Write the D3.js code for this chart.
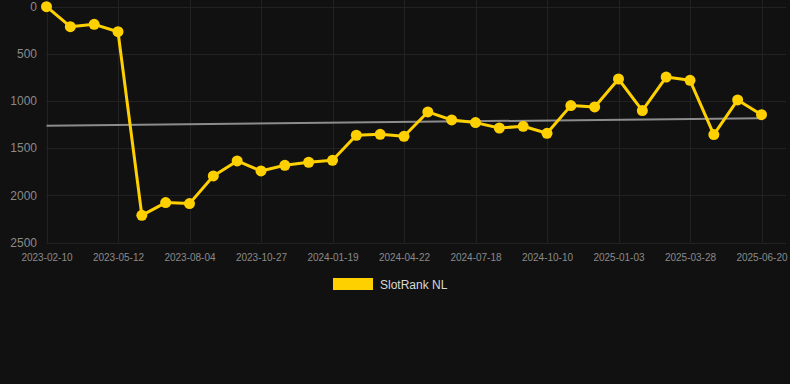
<!DOCTYPE html>
<html>
<head>
<meta charset="utf-8">
<script src="https://cdn.jsdelivr.net/npm/d3@7"></script>
<style>
  html, body { margin: 0; padding: 0; background: #111111; }
  svg { display: block; font-family: "Liberation Sans", Arial, sans-serif; }
</style>
</head>
<body>
<div id="chart"></div>
<script>
// data
let dates = ["2023-02-10", "2023-03-10", "2023-04-14", "2023-05-12", "2023-06-09", "2023-07-07",
    "2023-08-04", "2023-09-01", "2023-09-29", "2023-10-27", "2023-11-24", "2023-12-22",
    "2024-01-19", "2024-02-16", "2024-03-22", "2024-04-22", "2024-05-20", "2024-06-19",
    "2024-07-18", "2024-08-15", "2024-09-12", "2024-10-10", "2024-11-07", "2024-12-05",
    "2025-01-03", "2025-01-31", "2025-02-28", "2025-03-28", "2025-04-25", "2025-05-23",
    "2025-06-20"];
let ranks = [2, 214, 189, 267, 2212, 2077, 2088, 1795, 1636, 1742, 1682, 1650,
    1629, 1364, 1354, 1375, 1117, 1202, 1230, 1287, 1269, 1343, 1050, 1064,
    768, 1103, 747, 782, 1357, 990, 1146];
let trendEnds = [1262, 1184]; // gray trend line, first and last date
let yTicks = [0, 500, 1000, 1500, 2000, 2500];
let seriesName = "SlotRank NL";

//Options
let width = 790;
let height = 384;
let gold = "#ffd000";
let gridColor = "#222222";
let labelColor = "#8a8a8a";

let svg = d3.select("#chart").append("svg")
    .attr("width", width)
    .attr("height", height);

svg.append("rect")
    .attr("width", width)
    .attr("height", height)
    .style("fill", "#111111");

let x_scale = d3.scalePoint()
    .domain(dates)
    .range([46.5, 761.5]);

let y_scale = d3.scaleLinear()
    .domain([0, 2500])
    .range([6.5, 242.5]);

// horizontal grid
svg.append("g")
    .selectAll("line")
    .data(yTicks)
    .enter()
    .append("line")
        .attr("x1", 46)
        .attr("x2", 786)
        .attr("y1", d => Math.round(y_scale(d)) + 0.5)
        .attr("y2", d => Math.round(y_scale(d)) + 0.5)
        .style("stroke", gridColor)
        .style("stroke-width", 1);

// vertical grid, every 3rd date
let labelDates = dates.filter((d, i) => i % 3 == 0);
svg.append("g")
    .selectAll("line")
    .data(labelDates)
    .enter()
    .append("line")
        .attr("x1", d => Math.round(x_scale(d)) + 0.5)
        .attr("x2", d => Math.round(x_scale(d)) + 0.5)
        .attr("y1", 0)
        .attr("y2", y_scale(2500))
        .style("stroke", gridColor)
        .style("stroke-width", 1);

// y axis labels
let y_ax = d3.axisLeft(y_scale)
    .tickValues(yTicks)
    .tickSize(0)
    .tickPadding(0)
    .tickFormat(d3.format("d"));

let yg = svg.append("g")
    .attr("transform", "translate(37,0)")
    .call(y_ax);
yg.select(".domain").remove();
yg.selectAll("text")
    .style("fill", labelColor)
    .style("font-size", "12px")
    .style("font-family", "Liberation Sans, Arial, sans-serif");

// x axis labels
let x_ax = d3.axisBottom(x_scale)
    .tickValues(labelDates)
    .tickSize(0)
    .tickPadding(0);

let xg = svg.append("g")
    .attr("transform", "translate(0,254)")
    .call(x_ax);
xg.select(".domain").remove();
xg.selectAll("text")
    .style("fill", labelColor)
    .style("font-size", "10px")
    .style("font-family", "Liberation Sans, Arial, sans-serif");

// trend line
svg.append("line")
    .attr("x1", x_scale(dates[0]))
    .attr("x2", x_scale(dates[dates.length - 1]))
    .attr("y1", y_scale(trendEnds[0]))
    .attr("y2", y_scale(trendEnds[1]))
    .style("stroke", "#8c8c8c")
    .style("stroke-width", 2);

// series
let points = dates.map((d, i) => ({date: d, rank: ranks[i]}));

let line = d3.line()
    .x(d => x_scale(d.date))
    .y(d => y_scale(d.rank));

svg.append("path")
    .datum(points)
    .attr("d", line)
    .style("fill", "none")
    .style("stroke", gold)
    .style("stroke-width", 3)
    .style("stroke-linejoin", "round");

svg.append("g")
    .selectAll("circle")
    .data(points)
    .enter()
    .append("circle")
        .attr("cx", d => x_scale(d.date))
        .attr("cy", d => y_scale(d.rank))
        .attr("r", 5.5)
        .style("fill", gold);

// legend
let legend = svg.append("g")
    .attr("transform", "translate(333,278)");
legend.append("rect")
    .attr("width", 40)
    .attr("height", 12)
    .style("fill", gold);
legend.append("text")
    .attr("x", 47)
    .attr("y", 10.5)
    .style("fill", "#d8d8d8")
    .style("font-size", "12px")
    .text(seriesName);
</script>
</body>
</html>
